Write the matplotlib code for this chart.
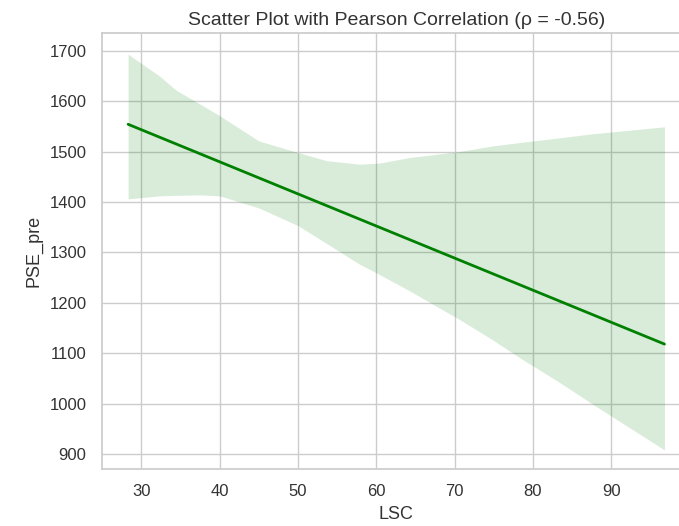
import matplotlib
matplotlib.use("Agg")
import matplotlib.pyplot as plt
import seaborn as sns
import numpy as np

sns.set_theme(style="whitegrid")
plt.rcParams['font.family'] = ['Liberation Sans', 'DejaVu Sans']

# Regression line endpoints (LSC vs PSE_pre)
line_x = [28.3, 96.8]
line_y = [1554, 1118]

# Confidence band
band_x = [28.3, 32.3, 34.4, 37.4, 40.0, 45.0, 50.0, 53.6, 57.8, 60.4, 64.2, 70.6, 74.8, 78.4, 83.3, 87.5, 96.8]
band_upper = [1693, 1650, 1622, 1595, 1571, 1521, 1498, 1482, 1475, 1477, 1488, 1500, 1511, 1518, 1527, 1535, 1549]
band_lower = [1406, 1412, 1413, 1414, 1412, 1388, 1353, 1318, 1277, 1256, 1224, 1167, 1127, 1090, 1043, 1000, 908]

title = "Scatter Plot with Pearson Correlation (\u03c1 = -0.56)"
xlabel = "LSC"
ylabel = "PSE_pre"
xticks = [30, 40, 50, 60, 70, 80, 90]
yticks = [900, 1000, 1100, 1200, 1300, 1400, 1500, 1600, 1700]

fig = plt.figure(figsize=(6.79, 5.26), dpi=100)
ax = fig.add_axes([0.1498, 1 - 469 / 526, 0.868, (469 - 33.3) / 526])

ax.fill_between(band_x, band_lower, band_upper, color="green", alpha=0.15, linewidth=0)
ax.plot(line_x, line_y, color="green", linewidth=2)

ax.set_xlim(24.93, 100.2)
ax.set_ylim(870.2, 1734.5)
ax.set_xticks(xticks)
ax.set_yticks(yticks)
ax.tick_params(axis="x", labelsize=12, colors="#333333", length=0, pad=11)
ax.tick_params(axis="y", labelsize=12, colors="#333333", length=0, pad=11)
ax.set_xlabel(xlabel, fontsize=13, labelpad=5, color="#333333")
ax.set_ylabel(ylabel, fontsize=13, labelpad=5, color="#333333")
ax.set_title(title, fontsize=14, pad=6, color="#333333")

fig.savefig("out.png", dpi=100)
